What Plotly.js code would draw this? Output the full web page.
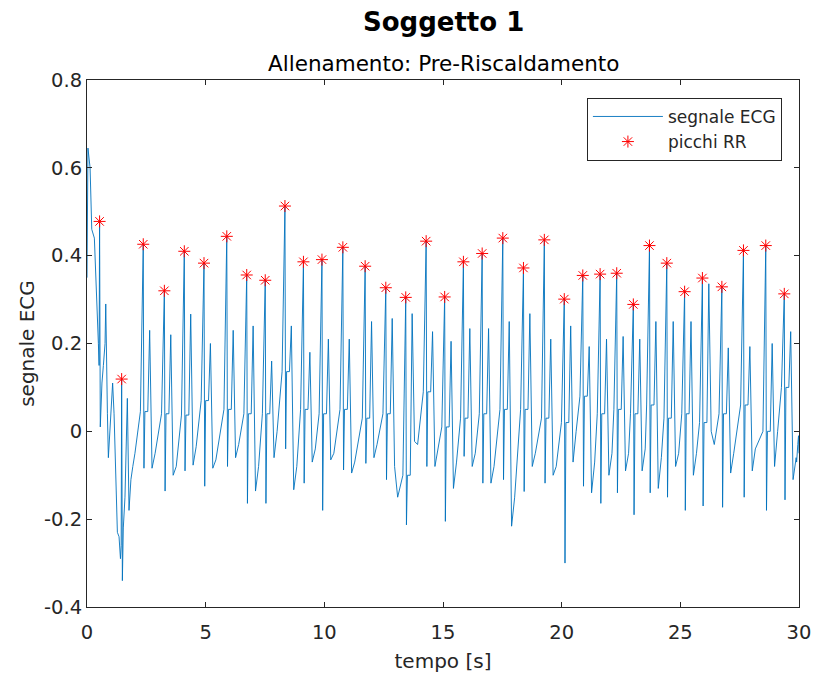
<!DOCTYPE html>
<html>
<head>
<meta charset="utf-8">
<script src="https://cdn.plot.ly/plotly-3.0.1.min.js"></script>
<style>html,body{margin:0;padding:0;background:#fff;}#chart{width:815px;height:679px;}</style>
</head>
<body>
<div id="chart"></div>
<script>
// ---- data ----
// R peaks (picchi RR)
const rTime = [0.53, 1.46, 2.37, 3.26, 4.10, 4.93, 5.89, 6.73, 7.51, 8.34, 9.12, 9.90,
  10.78, 11.72, 12.59, 13.43, 14.29, 15.07, 15.86, 16.65, 17.52, 18.39, 19.27, 20.11,
  20.89, 21.62, 22.32, 23.02, 23.70, 24.43, 25.18, 25.93, 26.75, 27.66, 28.60, 29.38];
const rValue = [0.478, 0.119, 0.426, 0.320, 0.410, 0.383, 0.444, 0.356, 0.344, 0.513, 0.386, 0.391,
  0.419, 0.376, 0.327, 0.305, 0.433, 0.306, 0.386, 0.405, 0.440, 0.372, 0.436, 0.301,
  0.355, 0.358, 0.360, 0.289, 0.423, 0.383, 0.318, 0.349, 0.329, 0.412, 0.423, 0.313];

// irregular start of the recording (first two beats and baseline drift)
const leadTime = [0, 0.04, 0.13, 0.20, 0.31, 0.37, 0.41, 0.45, 0.48, 0.51, 0.53, 0.56, 0.63, 0.69,
  0.76, 0.79, 0.81, 0.86, 0.90, 0.97, 1.04, 1.08, 1.14, 1.21, 1.28, 1.35, 1.41, 1.44, 1.46,
  1.49, 1.53, 1.60, 1.70, 1.77, 1.85, 1.93, 2.02];
const leadValue = [0.35, 0.645, 0.60, 0.46, 0.44, 0.36, 0.30, 0.28, 0.20, 0.15, 0.478, 0.01, 0.11, 0.15,
  0.20, 0.29, 0.17, 0.04, -0.06, 0.02, 0.10, 0.11, 0.04, -0.11, -0.23, -0.24, -0.29, -0.26, 0.119,
  -0.34, -0.22, -0.15, 0.075, -0.18, -0.11, -0.08, -0.05];

// per-beat wave levels for beats 3..36
const preValue    = [0.045, 0.04, 0.037, 0.07, 0.05, 0.04, 0.04, 0.136, 0.05, 0.04, 0.05, 0.03,
  0.04, -0.10, 0.09, 0.01, 0.03, 0.04, 0.05, 0.05, 0.03, 0.02, 0.08, 0.04, 0.05, 0.04, 0.06,
  0.03, 0.04, 0.02, 0.04, 0.06, 0.0, 0.10];
const sValue      = [-0.084, -0.136, -0.09, -0.125, -0.08, -0.164, -0.164, -0.04, -0.118, -0.18, -0.088, -0.073,
  -0.11, -0.213, -0.08, -0.205, -0.057, -0.118, -0.11, -0.137, -0.118, -0.30, -0.125, -0.164, -0.14, -0.19, -0.14,
  -0.15, -0.18, -0.17, -0.173, -0.15, -0.18, -0.156];
const tWaveValue  = [0.23, 0.22, 0.267, 0.20, 0.23, 0.24, 0.16, 0.24, 0.18, 0.21, 0.21, 0.25,
  0.257, 0.268, 0.227, 0.205, 0.234, 0.234, 0.25, 0.268, 0.21, 0.24, 0.193, 0.21, 0.216, 0.21, 0.25,
  0.25, 0.25, 0.336, 0.19, 0.193, 0.20, 0.227];
const troughValue = [-0.084, -0.10, -0.077, -0.084, -0.06, -0.136, -0.06, -0.133, -0.07, -0.065, -0.095, -0.06,
  -0.08, -0.023, -0.08, -0.13, -0.08, -0.118, -0.216, -0.08, -0.10, -0.07, -0.14, -0.10, -0.09, -0.09, -0.13,
  -0.08, -0.10, 0.0, -0.095, -0.09, -0.08, -0.11];
const midValue    = [-0.05, -0.08, -0.035, -0.065, -0.03, -0.08, 0.0, -0.08, -0.04, -0.05, -0.07, -0.03,
  -0.15, -0.03, -0.035, -0.07, -0.05, -0.08, -0.15, -0.05, -0.08, 0.0, -0.07, -0.05, -0.05, -0.04, -0.06,
  -0.05, -0.05, -0.03, -0.05, -0.04, 0.0, -0.06];

// end of the recording
const tailTime  = [29.90, 29.95, 29.98, 30.0];
const tailValue = [-0.07, -0.03, -0.01, -0.05];

const xTicks = [0, 5, 10, 15, 20, 25, 30];
const xTickText = ['0', '5', '10', '15', '20', '25', '30'];
const yTicks = [-0.4, -0.2, 0, 0.2, 0.4, 0.6, 0.8];
const yTickText = ['-0.4', '-0.2', '0', '0.2', '0.4', '0.6', '0.8'];

// ---- build the ECG line from the beat data ----
const ecgT = leadTime.slice();
const ecgV = leadValue.slice();
for (let k = 0; k < preValue.length; k++) {
  const i = k + 2;
  const t0 = rTime[i];
  ecgT.push(t0 - 0.12, t0, t0 + 0.03, t0 + 0.07, t0 + 0.19, t0 + 0.27, t0 + 0.37, t0 + 0.50);
  ecgV.push(preValue[k], rValue[i], sValue[k], preValue[k], preValue[k], tWaveValue[k], troughValue[k], midValue[k]);
}
for (let k = 0; k < tailTime.length; k++) { ecgT.push(tailTime[k]); ecgV.push(tailValue[k]); }

const FONT = 'DejaVu Sans, Liberation Sans, Arial, sans-serif';
const AX = '#262626';

const traces = [
  {x: ecgT, y: ecgV, type: 'scatter', mode: 'lines', name: 'segnale ECG',
   line: {color: '#0072BD', width: 0.9}},
  {x: rTime, y: rValue, type: 'scatter', mode: 'markers', name: 'picchi RR',
   marker: {symbol: 'asterisk-open', size: 10, color: '#FF0000', line: {color: '#FF0000', width: 1}}}
];

const layout = {
  width: 815, height: 679,
  margin: {l: 87, r: 16, t: 80, b: 72},
  paper_bgcolor: '#fff', plot_bgcolor: '#fff',
  font: {family: FONT, color: AX},
  showlegend: true,
  legend: {x: 0.976, xanchor: 'right', y: 0.966, yanchor: 'top',
    bgcolor: '#fff', bordercolor: AX, borderwidth: 1,
    font: {family: FONT, size: 17, color: AX}, itemwidth: 70},
  xaxis: {range: [0, 30], tickvals: xTicks, ticktext: xTickText,
    ticks: 'inside', ticklen: 5, tickcolor: AX, showline: true, linecolor: AX, linewidth: 1,
    mirror: 'ticks', showgrid: false, zeroline: false, ticklabelstandoff: 8,
    tickfont: {family: FONT, size: 19.5, color: AX},
    title: {text: 'tempo [s]', font: {family: FONT, size: 20, color: AX}, standoff: 10}},
  yaxis: {range: [-0.4, 0.8], tickvals: yTicks, ticktext: yTickText,
    ticks: 'inside', ticklen: 5, tickcolor: AX, showline: true, linecolor: AX, linewidth: 1,
    mirror: 'ticks', showgrid: false, zeroline: false,
    tickfont: {family: FONT, size: 19.5, color: AX},
    title: {text: 'segnale ECG', font: {family: FONT, size: 20, color: AX}, standoff: 4}},
  annotations: [
    {text: '<b>Soggetto 1</b>', xref: 'paper', yref: 'paper', x: 0.5, y: 1.110,
     xanchor: 'center', yanchor: 'middle', showarrow: false,
     font: {family: FONT, size: 26, color: '#000'}},
    {text: 'Allenamento: Pre-Riscaldamento', xref: 'paper', yref: 'paper', x: 0.5, y: 1.032,
     xanchor: 'center', yanchor: 'middle', showarrow: false,
     font: {family: FONT, size: 21.5, color: '#000'}}
  ]
};

Plotly.newPlot('chart', traces, layout, {displayModeBar: false, staticPlot: true});
</script>
</body>
</html>
